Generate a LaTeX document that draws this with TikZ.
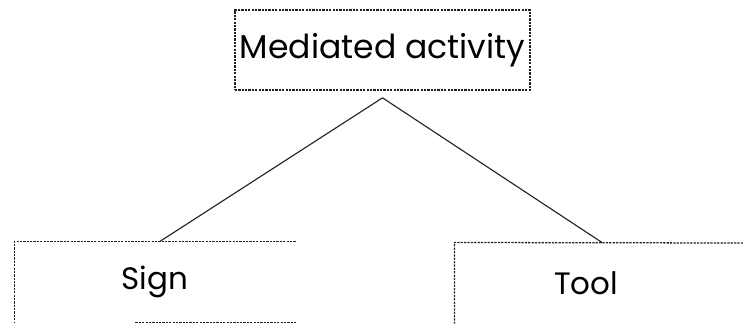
\documentclass[tikz,border=0pt]{standalone}
\usepackage{fontspec}
\setmainfont{Poppins}
\usetikzlibrary{positioning}
\definecolor{inkgray}{HTML}{222222}

\begin{document}
\begin{tikzpicture}[
  x=0.025cm, y=-0.025cm,
  line width=0.7pt,
  topbox/.style={rectangle, draw=inkgray, line width=0.9pt, dash pattern=on 1.6pt off 0.8pt, minimum width=7.375cm, minimum height=2cm, inner sep=0pt, font=\fontsize{23.5}{28}\selectfont},
  leafbox/.style={rectangle, minimum height=2cm, inner sep=0pt, font=\fontsize{22}{26}\selectfont},
  edge/.style={draw=inkgray, line width=0.9pt, dash pattern=on 1.6pt off 0.8pt},
  link/.style={draw=inkgray, line width=0.8pt}
]
  \useasboundingbox (0,0) rectangle (743,323);
  \node[topbox] (med) at (382.5,50) {Mediated activity};
  \node[leafbox, minimum width=7cm] (sign) at (155,282) {Sign};
  \node[leafbox, minimum width=6.55cm] (tool) at (586,283) {Tool};
  % open boxes, cut by the page
  \draw[edge] (sign.north east) -- (sign.north west) -- (sign.south west);
  \draw[edge] ([xshift=-4cm]sign.south east) -- (sign.south east);
  \draw[edge] (743,243) -- (tool.north west) -- (tool.south west);
  \coordinate (apex) at ([yshift=-0.18cm]med.south);
  \draw[link] (apex) -- ([xshift=0.12cm]sign.north);
  \draw[link] (apex) -- ([xshift=0.4cm]tool.north);
\end{tikzpicture}
\end{document}
